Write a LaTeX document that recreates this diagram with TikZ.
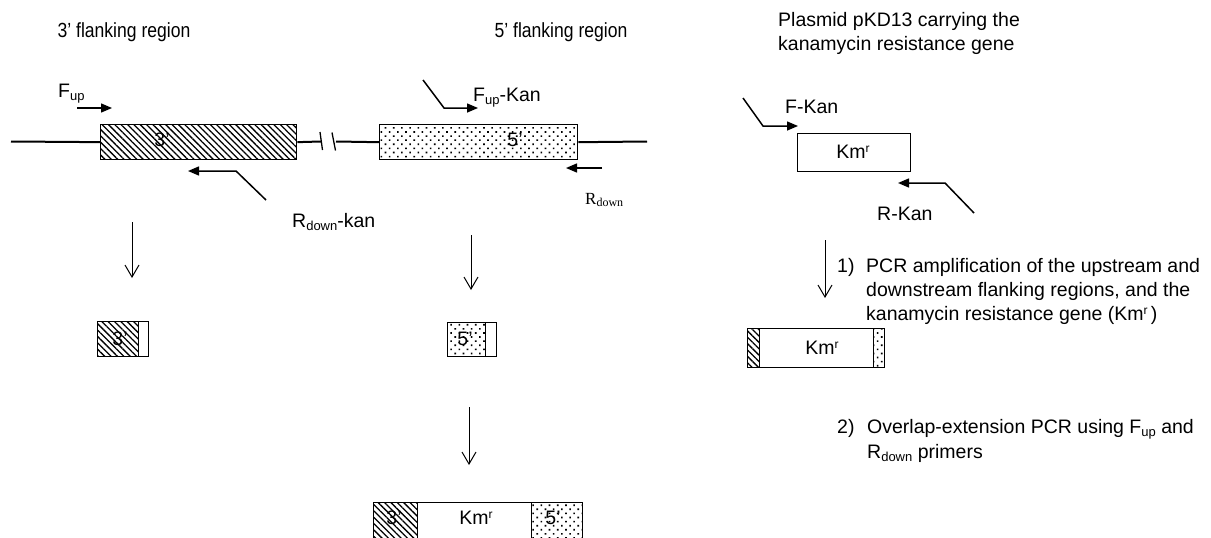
\documentclass[tikz,border=0pt]{standalone}
\usepackage{fontspec}
\setmainfont{Liberation Sans}
\newfontfamily\serifR{Liberation Serif}
\usetikzlibrary{arrows.meta,patterns.meta}
\newcommand{\lowsub}[1]{\raisebox{-0.35ex}{\fontsize{13}{13}\selectfont #1}}
\newcommand{\serifsub}[1]{\raisebox{-0.35ex}{\fontsize{12}{12}\selectfont #1}}
\newcommand{\supr}{\raisebox{0.6ex}{\fontsize{12}{12}\selectfont r}}
\begin{document}
\begin{tikzpicture}[x=1pt,y=-1pt,
  txt/.style={font=\fontsize{19.5}{24}\selectfont, inner sep=0pt, align=left},
  hatchbox/.style={draw, line width=1.4pt, pattern={Lines[angle=-45,distance=4.5pt,line width=1.3pt]}, pattern color=black, inner sep=0pt, anchor=north west},
  dotbox/.style={draw, line width=1.4pt, pattern={Dots[angle=45,distance=5.8pt,radius=1.15pt]}, pattern color=black, inner sep=0pt, anchor=north west},
  plainbox/.style={draw, line width=1.4pt, fill=white, inner sep=0pt, anchor=north west},
  dna/.style={line width=2pt},
  primer/.style={line width=1.5pt, -{Triangle[length=11pt,width=9pt]}},
  down/.style={line width=1pt, -{Straight Barb[length=12pt,width=14pt,line width=1pt]}},
]
\useasboundingbox (0,0) rectangle (1211,538);

% titles
\node[txt, anchor=base] (title3) at (124,37) {\scalebox{0.9}[1.05]{3’ flanking region}};
\node[txt, anchor=base] (title5) at (561,37) {\scalebox{0.9}[1.05]{5’ flanking region}};
\node[txt, anchor=north west] (titleP) at (778,12) {Plasmid pKD13 carrying the\\kanamycin resistance gene};

% genomic line
\node[hatchbox, minimum width=196pt, minimum height=35pt] (b3) at (100,124) {};
\node[dotbox, minimum width=198pt, minimum height=35pt] (b5) at (379,124) {};
\coordinate (l0) at (11,141.5);
\coordinate (brk1) at (321,141.5);
\coordinate (brk2) at (336,141.5);
\coordinate (l1) at (647,141.5);
\draw[dna] (l0) -- (b3.west);
\draw[dna] (b3.east) -- (brk1);
\draw[dna] (brk2) -- (b5.west);
\draw[dna] (b5.east) -- (l1);
\draw[line width=1.3pt] (320,132) -- (322.5,150);
\draw[line width=1.3pt] (332,132.5) -- (335.5,150.5);
\node[txt] (t3) at (162,140) {3’};
\node[txt] (t5) at (515,140) {5’};

% F_up primer
\coordinate (fu1) at (77,108);
\coordinate (fu2) at (112,108);
\draw[primer] (fu1) -- (fu2);
\node[txt, anchor=base west] (fuL) at (58,97) {F\lowsub{up}};

% R_down-kan primer
\coordinate (rk0) at (266,200);
\coordinate (rk1) at (236,171);
\coordinate (rk2) at (188,171);
\draw[primer] (rk0) -- (rk1) -- (rk2);
\node[txt, anchor=base west] (rkL) at (292,227) {R\lowsub{down}-kan};

% F_up-Kan primer
\coordinate (fk0) at (423,80);
\coordinate (fk1) at (444,108);
\coordinate (fk2) at (478,108);
\draw[primer] (fk0) -- (fk1) -- (fk2);
\node[txt, anchor=base west] (fkL) at (473,101) {F\lowsub{up}-Kan};

% R_down primer
\coordinate (rd0) at (602,168);
\coordinate (rd1) at (566,168);
\draw[primer] (rd0) -- (rd1);
\node[inner sep=0pt, anchor=base west, font=\serifR\fontsize{17}{17}\selectfont] (rdL) at (585,204) {R\serifsub{down}};

% plasmid Km cassette
\node[plainbox, minimum width=113pt, minimum height=38pt] (km) at (797,133) {};
\node[txt] (kmt) at (853,152) {Km\supr};
\coordinate (fK0) at (743,98);
\coordinate (fK1) at (763,126);
\coordinate (fK2) at (798,126);
\draw[primer] (fK0) -- (fK1) -- (fK2);
\node[txt, anchor=base west] (fKL) at (785,113) {F-Kan};
\coordinate (rK0) at (974,213);
\coordinate (rK1) at (945,183);
\coordinate (rK2) at (898,183);
\draw[primer] (rK0) -- (rK1) -- (rK2);
\node[txt, anchor=base west] (rKL) at (877,220) {R-Kan};

% PCR products
\coordinate (a1s) at (132,222);
\coordinate (a1e) at (132,278);
\draw[down] (a1s) -- (a1e);
\node[hatchbox, minimum width=41pt, minimum height=35pt] (p3a) at (97,321) {};
\node[plainbox, minimum width=10pt, minimum height=35pt] (p3b) at (138,321) {};
\node[txt] (p3t) at (120,339) {3’};

\coordinate (a2s) at (471,235);
\coordinate (a2e) at (471,290);
\draw[down] (a2s) -- (a2e);
\node[dotbox, minimum width=38pt, minimum height=34pt] (p5a) at (447,322) {};
\node[plainbox, minimum width=11pt, minimum height=34pt] (p5b) at (485,322) {};
\node[txt] (p5t) at (465,339) {5’};

\coordinate (a3s) at (825,240);
\coordinate (a3e) at (825,298);
\draw[down] (a3s) -- (a3e);
\node[hatchbox, minimum width=12pt, minimum height=39pt] (pka) at (747,328) {};
\node[plainbox, minimum width=114pt, minimum height=39pt] (pkb) at (759,328) {};
\node[dotbox, minimum width=11pt, minimum height=39pt] (pkc) at (873,328) {};
\node[txt] (pkt) at (822,348) {Km\supr};

\node[txt, anchor=base west] (n1) at (837,272) {1)};
\node[txt, anchor=north west] (s1) at (866,258) {PCR amplification of the upstream and\\downstream flanking regions, and the\\kanamycin resistance gene (Km\supr\,)};

% overlap PCR
\coordinate (a4s) at (469,407);
\coordinate (a4e) at (469,465);
\draw[down] (a4s) -- (a4e);
\node[hatchbox, minimum width=44pt, minimum height=42pt] (fa) at (373,502) {};
\node[plainbox, minimum width=114pt, minimum height=42pt] (fb) at (417,502) {};
\node[dotbox, minimum width=51pt, minimum height=42pt] (fc) at (531,502) {};
\node[txt] (ft3) at (394,518) {3’};
\node[txt] (ftk) at (476,518) {Km\supr};
\node[txt] (ft5) at (553,518) {5’};

\node[txt, anchor=base west] (n2) at (837,433) {2)};
\node[txt, anchor=north west, font=\fontsize{19.5}{25}\selectfont] (s2) at (867,419) {Overlap-extension PCR using F\lowsub{up} and\\R\lowsub{down} primers};
\end{tikzpicture}
\end{document}
